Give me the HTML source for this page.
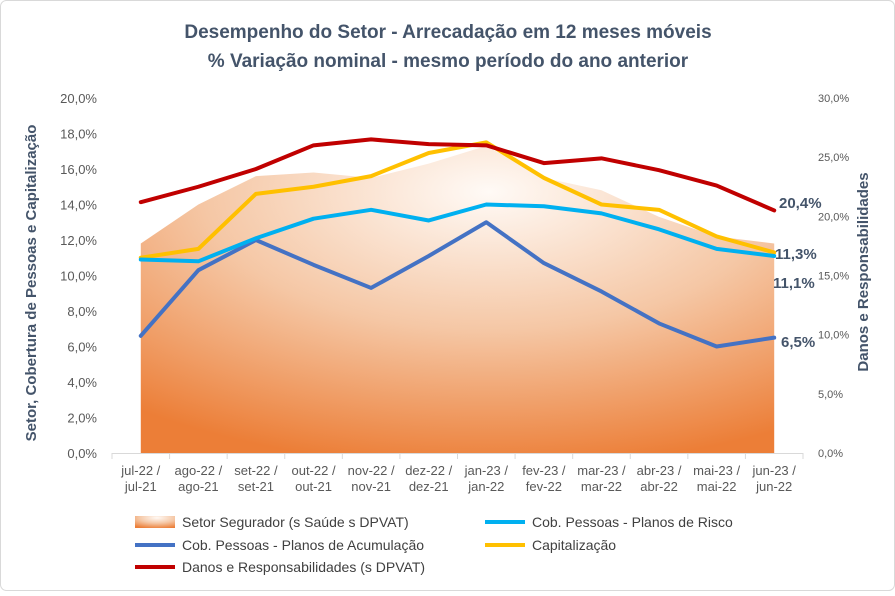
<!DOCTYPE html>
<html><head><meta charset="utf-8"><style>
body{margin:0;background:#fff;}
svg text{font-family:"Liberation Sans",sans-serif;}
</style></head><body>
<svg id="c" width="895" height="591" xmlns="http://www.w3.org/2000/svg">
<defs>
<radialGradient id="ag" cx="0.55" cy="0.15" r="0.9">
<stop offset="0" stop-color="#fffaf6"/><stop offset="0.5" stop-color="#f5c7a5"/><stop offset="1" stop-color="#ec7e37"/>
</radialGradient>
</defs>
<rect x="0.5" y="0.5" width="894" height="590" rx="6" fill="#fff" stroke="#d9d9d9"/>
<text x="448" y="38" text-anchor="middle" font-size="19" font-weight="bold" fill="#44546a">Desempenho do Setor - Arrecadação em 12 meses móveis</text>
<text x="448" y="67" text-anchor="middle" font-size="19" font-weight="bold" fill="#44546a">% Variação nominal - mesmo período do ano anterior</text>
<text transform="translate(36,283) rotate(-90)" text-anchor="middle" font-size="15" font-weight="bold" fill="#44546a">Setor, Cobertura de Pessoas e Capitalização</text>
<text transform="translate(868,272) rotate(-90)" text-anchor="middle" font-size="15" font-weight="bold" fill="#44546a">Danos e Responsabilidades</text>
<g id="plot"></g>
<g id="legend"></g>
</svg>
<script>
const categories=[["jul-22 /","jul-21"],["ago-22 /","ago-21"],["set-22 /","set-21"],["out-22 /","out-21"],["nov-22 /","nov-21"],["dez-22 /","dez-21"],["jan-23 /","jan-22"],["fev-23 /","fev-22"],["mar-23 /","mar-22"],["abr-23 /","abr-22"],["mai-23 /","mai-22"],["jun-23 /","jun-22"]];
const setor=[11.8,14.0,15.6,15.8,15.5,16.3,17.3,15.5,14.8,13.3,12.2,11.8];
const risco=[10.9,10.8,12.1,13.2,13.7,13.1,14.0,13.9,13.5,12.6,11.5,11.1];
const acumulacao=[6.6,10.3,12.0,10.6,9.3,11.1,13.0,10.7,9.1,7.3,6.0,6.5];
const capitalizacao=[11.0,11.5,14.6,15.0,15.6,16.9,17.5,15.5,14.0,13.7,12.2,11.3];
const danos=[21.2,22.5,24.0,26.0,26.5,26.1,26.0,24.5,24.9,23.9,22.6,20.5];
const leftTicks=[0,2,4,6,8,10,12,14,16,18,20];
const rightTicks=[0,5,10,15,20,25,30];
const NS="http://www.w3.org/2000/svg";
const X0=112,X1=803,Y0=453,Y1=98;
const step=(X1-X0)/categories.length;
const x=i=>X0+step*(i+0.5);
const yL=v=>Y0-(v/20)*(Y0-Y1);
const yR=v=>Y0-(v/30)*(Y0-Y1);
const plot=document.getElementById('plot');
function mk(t,a,p){const e=document.createElementNS(NS,t);for(const k in a)e.setAttribute(k,a[k]);(p||plot).appendChild(e);return e;}
const fmt=v=>v.toFixed(1).replace('.',',')+'%';
leftTicks.forEach(v=>{const t=mk('text',{x:97,y:yL(v)+5,'text-anchor':'end','font-size':13,fill:'#595959'});t.textContent=fmt(v);

});
rightTicks.forEach(v=>{const t=mk('text',{x:818,y:yR(v)+4,'font-size':11,fill:'#595959'});t.textContent=fmt(v);

});
// area
let d='M'+x(0)+','+Y0;setor.forEach((v,i)=>d+='L'+x(i)+','+yL(v));d+='L'+x(11)+','+Y0+'Z';
const ar=mk('path',{d:d,fill:'url(#ag)'});


mk('line',{x1:X0,x2:X1,y1:Y0+0.5,y2:Y0+0.5,stroke:'#d9d9d9'});
for(let i=0;i<=12;i++)mk('line',{x1:X0+step*i,x2:X0+step*i,y1:Y0,y2:Y0+6,stroke:'#d9d9d9'});
categories.forEach((c,i)=>{[0,1].forEach(k=>{const t=mk('text',{x:x(i),y:475+k*16,'text-anchor':'middle','font-size':13,fill:'#595959'});t.textContent=c[k];

});});
function line(arr,f,col,name){const p=mk('path',{d:arr.map((v,i)=>(i?'L':'M')+x(i)+','+f(v)).join(''),fill:'none',stroke:col,'stroke-width':4,'stroke-linejoin':'round','stroke-linecap':'round'});

}
line(capitalizacao,yL,'#ffc000','capitalizacao-line');
line(acumulacao,yL,'#4472c4','acumulacao-line');
line(risco,yL,'#00b0f0','risco-line');
line(danos,yR,'#c00000','danos-line');
function lab(txt,xx,yy,name){const t=mk('text',{x:xx,y:yy,'font-size':15,'font-weight':'bold',fill:'#44546a'});t.textContent=txt;

}
lab('20,4%',779,208,'danos-last-label');
lab('11,3%',775,259,'capitalizacao-last-label');
lab('11,1%',773,288,'risco-last-label');
lab('6,5%',781,347,'acumulacao-last-label');
const lg=document.getElementById('legend');
const items=[['Setor Segurador (s Saúde s DPVAT)','area',135,522],['Cob. Pessoas - Planos de Risco','#00b0f0',485,522],['Cob. Pessoas - Planos de Acumulação','#4472c4',135,545],['Capitalização','#ffc000',485,545],['Danos e Responsabilidades (s DPVAT)','#c00000',135,567]];
items.forEach(it=>{const g=mk('g',{},lg);


if(it[1]=='area')mk('rect',{x:it[2],y:it[3]-6,width:40,height:12,fill:'url(#ag)'},g);
else mk('line',{x1:it[2],x2:it[2]+40,y1:it[3],y2:it[3],stroke:it[1],'stroke-width':4},g);
const t=mk('text',{x:it[2]+47,y:it[3]+5,'font-size':14,fill:'#404040'},g);t.textContent=it[0];});
</script>
</body></html>
